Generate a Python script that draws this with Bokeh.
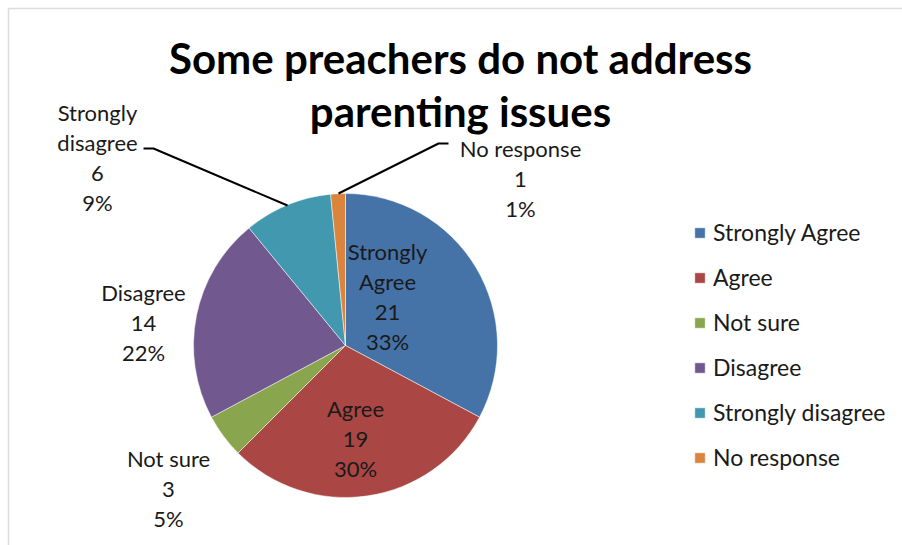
import math
from bokeh.plotting import figure
from bokeh.models import Range1d, ColumnDataSource, Legend, LegendItem, BoxAnnotation
from bokeh.core.properties import value
from bokeh.embed import file_html
from bokeh.resources import INLINE

title_lines = ["Some preachers do not address", "parenting issues"]
categories = ["Strongly Agree", "Agree", "Not sure", "Disagree", "Strongly disagree", "No response"]
label_names = ["Strongly\nAgree", "Agree", "Not sure", "Disagree", "Strongly\ndisagree", "No response"]
counts = [21, 19, 3, 14, 6, 1]
percent_labels = ["33%", "30%", "5%", "22%", "9%", "1%"]
colors = ["#4572A7", "#AA4643", "#89A54E", "#71588F", "#4198AF", "#DB843D"]

W, H = 902, 545
FONT = "Lato"

p = figure(width=W, height=H, x_range=Range1d(0, W), y_range=Range1d(H, 0),
           output_backend="svg", toolbar_location=None, min_border=0)
p.axis.visible = False
p.grid.visible = False
p.outline_line_color = None
p.background_fill_color = "white"
p.border_fill_color = "white"

# chart frame (clipped at right/bottom like the reference)
p.add_layout(BoxAnnotation(left=8, right=W + 20, top=8, bottom=H + 20,
                           fill_alpha=0, line_color="#8c8c8c", line_width=1.5))

# pie: starts at 12 o'clock, clockwise
cx, cy, R = 345, 345, 152
total = sum(counts)
starts, ends = [], []
cum = 0
for c in counts:
    starts.append(math.pi / 2 - 2 * math.pi * cum / total)
    cum += c
    ends.append(math.pi / 2 - 2 * math.pi * cum / total)

src = ColumnDataSource(dict(x=[cx] * len(counts), y=[cy] * len(counts),
                            start=starts, end=ends, color=colors, cat=categories))
r = p.wedge(x="x", y="y", radius=R, start_angle="start", end_angle="end",
            direction="clock", fill_color="color", line_color="white",
            line_width=0.5, source=src)

# data labels (positions are layout)
lab_x = [387, 355, 168, 143, 97, 520]
lab_y = [296, 438, 488, 322, 157, 178]
texts = [f"{n}\n{v}\n{pc}" for n, v, pc in zip(label_names, counts, percent_labels)]
p.text(x=lab_x, y=lab_y, text=texts, text_align="center", text_baseline="middle",
       text_font=value(FONT), text_font_size="22px", text_color="#1a1a1a",
       text_line_height=1.12)

# leader lines
p.line(x=[143, 153, 287], y=[148, 148, 205], line_color="black", line_width=2)
p.line(x=[448, 438, 338], y=[143, 143, 193], line_color="black", line_width=2)

# title
p.text(x=[460, 460], y=[57, 110], text=title_lines, text_align="center",
       text_baseline="middle", text_font=value(FONT), text_font_style="bold",
       text_font_size="42px", text_color="black")

# legend
items = [LegendItem(label=c, renderers=[r], index=i) for i, c in enumerate(categories)]
legend = Legend(items=items, location=(693, 74), orientation="vertical",
                glyph_width=13, glyph_height=13, label_standoff=7,
                label_height=24, spacing=17, padding=0, margin=0,
                border_line_color=None, background_fill_alpha=0,
                label_text_font=FONT, label_text_font_size="23px",
                label_text_color="#1a1a1a")
p.add_layout(legend, "center")

open("out.html", "w").write(file_html(p, INLINE))
